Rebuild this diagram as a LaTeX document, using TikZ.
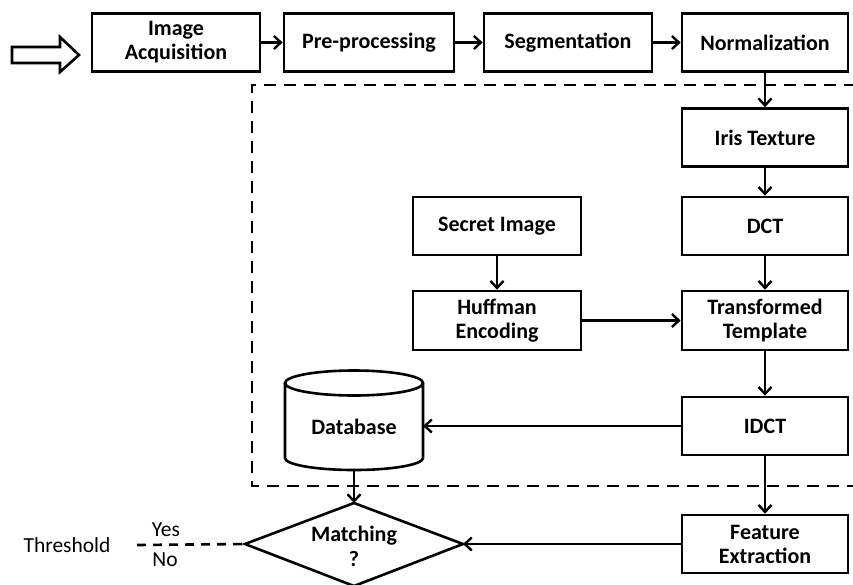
\documentclass[tikz,border=0pt]{standalone}
\usepackage{fontspec}
\setmainfont{Carlito}
\usetikzlibrary{arrows.meta}
\begin{document}
\begin{tikzpicture}[x=1pt,y=-1pt,
  box/.style={draw,line width=2.6pt,minimum width=168pt,minimum height=58pt,align=center,inner sep=2pt,font=\fontsize{22}{24}\selectfont\bfseries},
  arr/.style={line width=2.4pt,-{Straight Barb[length=7pt,width=13pt,line width=2.4pt]}},
  lbl/.style={font=\fontsize{21.5}{24}\selectfont},
  shp/.style={line width=2.6pt}]
\useasboundingbox (0,0) rectangle (853,584);
% dashed region
\draw[line width=2.6pt,dash pattern=on 12pt off 8pt] (856,85) -- (252,85) -- (252,486) -- (856,486);
% boxes
\node[box] (acq) at (176,42.5) {Image\\Acquisition};
\node[box,minimum width=170pt] (pre) at (369,42.5) {Pre-processing};
\node[box] (seg) at (568,42.5) {Segmentation};
\node[box,minimum width=166pt] (norm) at (765,42.5) {Normalization};
\node[box,minimum width=166pt] (iris) at (765,137.5) {Iris Texture};
\node[box,minimum width=166pt] (dct) at (765,226) {DCT};
\node[box] (secret) at (497,226) {Secret Image};
\node[box,minimum height=59pt] (huff) at (497,320.5) {Huffman\\Encoding};
\node[box,minimum width=166pt,minimum height=59pt] (trans) at (765,320.5) {Transformed\\Template};
\node[box,minimum width=166pt] (idct) at (765,426) {IDCT};
\node[box,minimum width=166pt] (feat) at (765,544) {Feature\\Extraction};
% database cylinder
\node[inner sep=0pt,font=\fontsize{22}{24}\selectfont\bfseries] (db) at (354,427) {Database};
\draw[shp] (285,383) -- (285,458) arc[start angle=180,end angle=0,x radius=69,y radius=12] -- (423,383);
\draw[shp] (354,383) ellipse[x radius=69,y radius=12.5];
\coordinate (dbr) at (423,426);
\coordinate (dbb) at (354,470);
% diamond
\node[inner sep=0pt,align=center,font=\fontsize{22}{24}\selectfont\bfseries] (match) at (354,546) {Matching\\[1pt]?};
\coordinate (mN) at (354,503);
\coordinate (mE) at (463,544);
\coordinate (mS) at (354,586);
\coordinate (mW) at (245,544);
\draw[shp,line join=miter] (mN) -- (mE) -- (mS) -- (mW) -- cycle;
% hollow input arrow
\draw[shp,line join=miter] (12,47) -- (60,47) -- (60,37) -- (79,55) -- (60,72) -- (60,63) -- (12,63) -- cycle;
% threshold
\node[lbl,anchor=west] (thr) at (20,545) {Threshold};
\coordinate (tl) at (137,545);
\draw[line width=2.6pt,dash pattern=on 9pt off 7pt] (tl) -- (mW);
\node[lbl] (yes) at (166,530) {Yes};
\node[lbl] (no) at (165,560) {No};
% connectors
\draw[arr] (acq) -- (pre);
\draw[arr] (pre) -- (seg);
\draw[arr] (seg) -- (norm);
\draw[arr] (norm) -- (iris);
\draw[arr] (iris) -- (dct);
\draw[arr] (dct) -- (trans);
\draw[arr] (secret) -- (huff);
\draw[arr] (huff) -- (trans);
\draw[arr] (trans) -- (idct);
\draw[arr] (idct.west) -- (dbr);
\draw[arr] (idct) -- (feat);
\draw[arr] (feat) -- (mE);
\draw[arr] (dbb) -- (mN);
\end{tikzpicture}
\end{document}
